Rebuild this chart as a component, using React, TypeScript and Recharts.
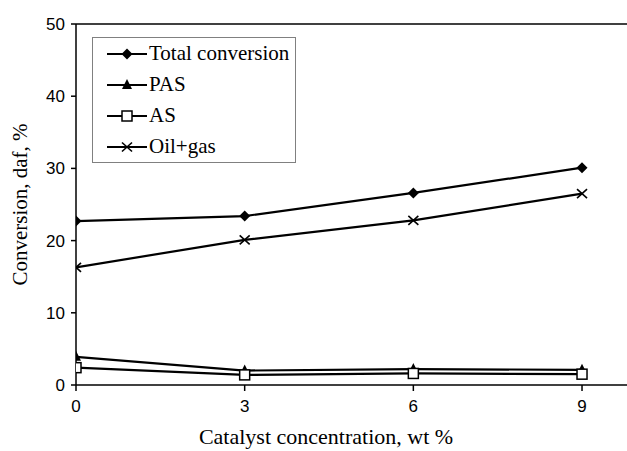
import { LineChart, Line, XAxis, YAxis, Legend, ReferenceLine } from 'recharts'

const concentration = [0, 3, 6, 9]
const totalConversion = [22.7, 23.4, 26.6, 30.1]
const pas = [3.9, 2.0, 2.2, 2.1]
const asValues = [2.4, 1.4, 1.6, 1.5]
const oilGas = [16.3, 20.1, 22.8, 26.5]
const xTicks = [0, 3, 6, 9]
const yTicks = [0, 10, 20, 30, 40, 50]

const data = concentration.map((c, i) => ({
  c,
  total: totalConversion[i],
  pas: pas[i],
  as: asValues[i],
  oil: oilGas[i],
}))

type MarkerType = 'diamond' | 'triangle' | 'square' | 'cross'

const SERIES: { key: string; name: string; marker: MarkerType }[] = [
  { key: 'total', name: 'Total conversion', marker: 'diamond' },
  { key: 'pas', name: 'PAS', marker: 'triangle' },
  { key: 'as', name: 'AS', marker: 'square' },
  { key: 'oil', name: 'Oil+gas', marker: 'cross' },
]

const SERIF = '"Liberation Serif", "Times New Roman", serif'
const SANS = '"Liberation Sans", Arial, sans-serif'

function Marker({ type, cx, cy }: { type: MarkerType; cx: number; cy: number }) {
  if (type === 'diamond')
    return <polygon points={`${cx},${cy - 5.5} ${cx + 5.5},${cy} ${cx},${cy + 5.5} ${cx - 5.5},${cy}`} fill="#000" />
  if (type === 'triangle')
    return <polygon points={`${cx},${cy - 6} ${cx + 5},${cy + 4} ${cx - 5},${cy + 4}`} fill="#000" />
  if (type === 'square')
    return <rect x={cx - 5} y={cy - 5} width={10} height={10} fill="#fff" stroke="#000" strokeWidth={1.5} />
  return (
    <g stroke="#000" strokeWidth={1.6}>
      <line x1={cx - 5} y1={cy - 4.5} x2={cx + 5} y2={cy + 4.5} />
      <line x1={cx - 5} y1={cy + 4.5} x2={cx + 5} y2={cy - 4.5} />
    </g>
  )
}

function LegendBox() {
  return (
    <div
      style={{
        border: '1.5px solid #808080',
        background: '#fff',
        padding: '0 8px 0 14px',
        width: 204,
        boxSizing: 'border-box',
        fontFamily: SERIF,
        fontSize: 21,
        color: '#000',
      }}
    >
      {SERIES.map((s) => (
        <div key={s.key} style={{ display: 'flex', alignItems: 'center', height: 31 }}>
          <svg width={40} height={14} style={{ flexShrink: 0 }}>
            <line x1={0} y1={7} x2={40} y2={7} stroke="#000" strokeWidth={2.2} />
            <Marker type={s.marker} cx={20} cy={7} />
          </svg>
          <span style={{ marginLeft: 2, whiteSpace: 'nowrap' }}>{s.name}</span>
        </div>
      ))}
    </div>
  )
}

function YLabel({ viewBox }: any) {
  const cy = viewBox.y + viewBox.height / 2
  return (
    <text
      x={22}
      y={cy}
      transform={`rotate(-90, 22, ${cy})`}
      textAnchor="middle"
      dominantBaseline="middle"
      fontFamily={SERIF}
      fontSize={21}
      fill="#000"
    >
      Conversion, daf, %
    </text>
  )
}

function XLabel({ viewBox }: any) {
  return (
    <text
      x={326}
      y={viewBox.y + 59}
      textAnchor="middle"
      fontFamily={SERIF}
      fontSize={22}
      fill="#000"
    >
      Catalyst concentration, wt %
    </text>
  )
}

export default function App() {
  return (
    <div style={{ position: 'absolute', left: 0, top: 0, width: 627, height: 451, background: '#fff' }}>
      <LineChart width={627} height={451} data={data} margin={{ top: 24, right: 0, bottom: 0, left: 0 }}>
        <XAxis
          dataKey="c"
          type="number"
          domain={[0, 9.8]}
          ticks={xTicks}
          allowDataOverflow
          height={66}
          tickSize={6}
          tickMargin={9}
          axisLine={{ stroke: '#000', strokeWidth: 1.5 }}
          tickLine={{ stroke: '#000', strokeWidth: 1.5 }}
          tick={{ fill: '#000', fontSize: 17, fontFamily: SANS }}
          label={<XLabel />}
        />
        <YAxis
          type="number"
          domain={[0, 50]}
          ticks={yTicks}
          width={76}
          tickSize={5}
          tickMargin={6}
          axisLine={{ stroke: '#000', strokeWidth: 1.5 }}
          tickLine={{ stroke: '#000', strokeWidth: 1.5 }}
          tick={{ fill: '#000', fontSize: 17, fontFamily: SANS }}
          label={<YLabel />}
        />
        <ReferenceLine y={50} stroke="#000" strokeWidth={1.5} />
        <Legend
          layout="vertical"
          align="center"
          verticalAlign="middle"
          wrapperStyle={{ left: 92, top: 37, width: 'auto' }}
          content={() => <LegendBox />}
        />
        {SERIES.map((s) => (
          <Line
            key={s.key}
            dataKey={s.key}
            name={s.name}
            type="linear"
            stroke="#000"
            strokeWidth={2.2}
            isAnimationActive={false}
            dot={(p: any) => (
              <g key={`${s.key}-${p.index}`}>
                <Marker type={s.marker} cx={p.cx} cy={p.cy} />
              </g>
            )}
            activeDot={false}
          />
        ))}
      </LineChart>
    </div>
  )
}
